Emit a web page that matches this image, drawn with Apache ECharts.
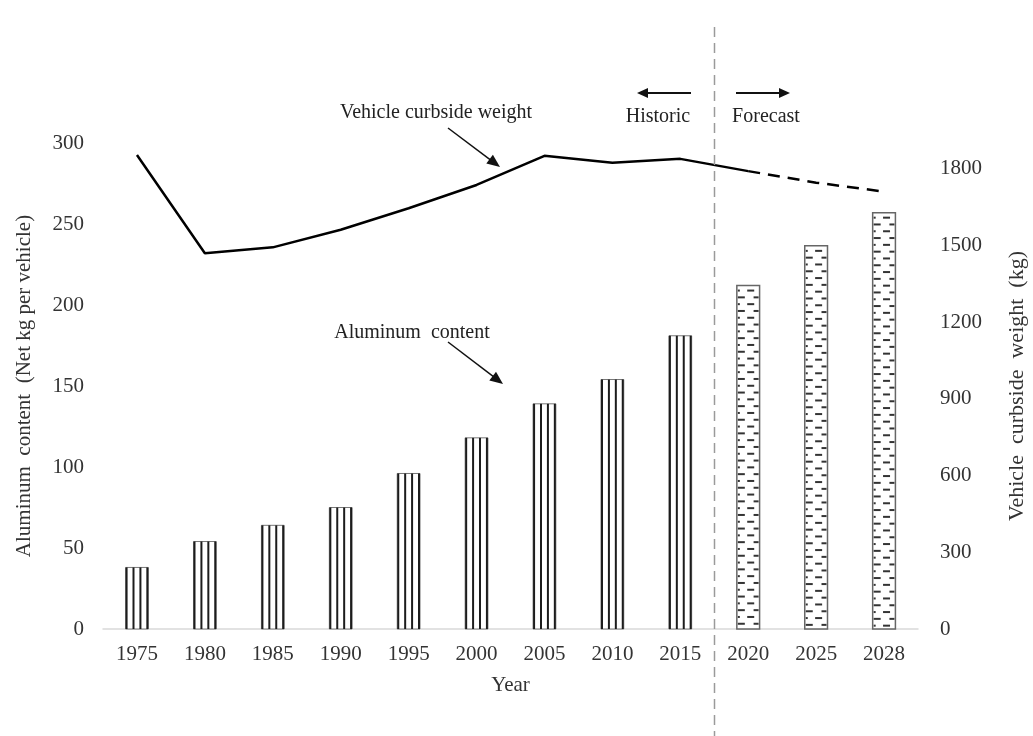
<!DOCTYPE html>
<html><head><meta charset="utf-8">
<script src="https://cdn.jsdelivr.net/npm/echarts@6/dist/echarts.min.js"></script>
<style>html,body{margin:0;padding:0;background:#fff}#c{width:1033px;height:736px}</style>
</head><body><div id="c"></div>
<script>
// ---- data ----
const years = ['1975','1980','1985','1990','1995','2000','2005','2010','2015','2020','2025','2028'];
const aluminumHistoric = [38, 54, 64, 75, 96, 118, 139, 154, 181, null, null, null];
const aluminumForecast = [null, null, null, null, null, null, null, null, null, 212, 236.5, 257];
const weightHistoric = [1853, 1469, 1492, 1561, 1645, 1736, 1850, 1823, 1838, 1790, null, null];
const weightForecast = [null, null, null, null, null, null, null, null, null, 1790, 1745, 1710];
const leftAxis = {min: 0, max: 300, interval: 50};
const rightAxis = {min: 0, max: 1900, interval: 300};

const FONT = '"Liberation Serif", "Times New Roman", serif';
const toPairs = arr => arr.map((v, i) => v == null ? null : [i, v]).filter(d => d);

function renderHistoric(params, api) {
  const idx = api.value(0), val = api.value(1);
  const base = api.coord([idx, 0]);
  const top = api.coord([idx, val]);
  const bw = api.size([1, 0])[0] * 0.335;
  const x0 = base[0] - bw / 2;
  const h = base[1] - top[1];
  const children = [{
    type: 'rect', shape: {x: x0, y: top[1], width: bw, height: h},
    style: {fill: '#fff', stroke: '#777', lineWidth: 1}
  }];
  for (let k = 0; k < 4; k++) {
    const x = x0 + 1 + k * (bw - 2) / 3;
    children.push({type: 'line', shape: {x1: x, y1: top[1], x2: x, y2: base[1]},
      style: {stroke: '#1c1c1c', lineWidth: 2}});
  }
  return {type: 'group', children};
}

function renderForecast(params, api) {
  const idx = api.value(0), val = api.value(1);
  const base = api.coord([idx, 0]);
  const top = api.coord([idx, val]);
  const bw = api.size([1, 0])[0] * 0.335;
  const x0 = base[0] - bw / 2;
  const h = base[1] - top[1];
  const children = [{
    type: 'rect', shape: {x: x0, y: top[1], width: bw, height: h},
    style: {fill: '#fff', stroke: '#666', lineWidth: 1.5}
  }];
  let row = 0;
  for (let y = top[1] + 5; y < base[1] - 2; y += 6.8, row++) {
    if (row % 2 === 0) {
      children.push({type: 'line', shape: {x1: x0 + bw / 2 - 1, y1: y, x2: x0 + bw / 2 + 6, y2: y},
        style: {stroke: '#333', lineWidth: 2}});
      children.push({type: 'line', shape: {x1: x0 + 1, y1: y, x2: x0 + 3, y2: y},
        style: {stroke: '#333', lineWidth: 2}});
    } else {
      children.push({type: 'line', shape: {x1: x0 + 1, y1: y, x2: x0 + 8, y2: y},
        style: {stroke: '#333', lineWidth: 2}});
      children.push({type: 'line', shape: {x1: x0 + bw - 6, y1: y, x2: x0 + bw - 1, y2: y},
        style: {stroke: '#333', lineWidth: 2}});
    }
  }
  return {type: 'group', children};
}

function arrow(x1, y1, x2, y2, head, hw, lw) {
  const dx = x2 - x1, dy = y2 - y1, L = Math.hypot(dx, dy), ux = dx / L, uy = dy / L;
  const bx = x2 - ux * head, by = y2 - uy * head;
  return [
    {type: 'line', shape: {x1, y1, x2: bx + ux * 1, y2: by + uy * 1}, style: {stroke: '#111', lineWidth: lw}, z: 100},
    {type: 'polygon', shape: {points: [[x2, y2], [bx - uy * hw, by + ux * hw], [bx + uy * hw, by - ux * hw]]},
      style: {fill: '#111'}, z: 100}
  ];
}
function label(text, x, y, size) {
  return {type: 'text', x, y, z: 100,
    style: {text, fontSize: size || 20, fontFamily: FONT, fill: '#222', align: 'center', verticalAlign: 'middle'}};
}

const chart = echarts.init(document.getElementById('c'), null, {renderer: 'canvas'});
const axisLabelStyle = {fontSize: 21, fontFamily: FONT, color: '#333'};
chart.setOption({
  animation: false,
  backgroundColor: '#fff',
  grid: {left: 103, right: 115, top: 143, bottom: 107, containLabel: false, outerBoundsMode: 'none'},
  xAxis: {
    type: 'category', data: years, boundaryGap: true,
    axisLine: {show: true, lineStyle: {color: '#d9d9d9', width: 1.5}},
    axisTick: {show: false},
    axisLabel: Object.assign({margin: 15, interval: 0}, axisLabelStyle),
    name: 'Year', nameLocation: 'middle', nameGap: 46,
    nameTextStyle: {fontSize: 21, fontFamily: FONT, color: '#333'}
  },
  yAxis: [{
    type: 'value', position: 'left', min: leftAxis.min, max: leftAxis.max, interval: leftAxis.interval,
    splitLine: {show: false}, axisLine: {show: false}, axisTick: {show: false},
    axisLabel: Object.assign({margin: 19, formatter: v => String(v)}, axisLabelStyle),
    name: 'Aluminum  content  (Net kg per vehicle)', nameLocation: 'middle', nameGap: 68, nameRotate: 90,
    nameTextStyle: {fontSize: 21, fontFamily: FONT, color: '#333'}
  }, {
    type: 'value', position: 'right', min: rightAxis.min, max: rightAxis.max, interval: rightAxis.interval,
    splitLine: {show: false}, axisLine: {show: false}, axisTick: {show: false},
    axisLabel: Object.assign({margin: 22, showMaxLabel: false, formatter: v => String(v)}, axisLabelStyle),
    name: 'Vehicle  curbside  weight  (kg)', nameLocation: 'middle', nameGap: 88, nameRotate: 90,
    nameTextStyle: {fontSize: 22, fontFamily: FONT, color: '#333'}
  }],
  series: [{
    type: 'custom', name: 'Aluminum historic', yAxisIndex: 0, renderItem: renderHistoric,
    encode: {x: 0, y: 1}, data: toPairs(aluminumHistoric)
  }, {
    type: 'custom', name: 'Aluminum forecast', yAxisIndex: 0, renderItem: renderForecast,
    encode: {x: 0, y: 1}, data: toPairs(aluminumForecast)
  }, {
    type: 'line', name: 'Weight historic', yAxisIndex: 1, data: weightHistoric, symbol: 'none',
    lineStyle: {color: '#000', width: 2.5}, z: 5
  }, {
    type: 'line', name: 'Weight forecast', yAxisIndex: 1, data: weightForecast, symbol: 'none',
    lineStyle: {color: '#000', width: 2.5, type: [12, 8]}, z: 5
  }]
});

const xA = chart.convertToPixel({xAxisIndex: 0}, 8);
const xB = chart.convertToPixel({xAxisIndex: 0}, 9);
const sepX = Math.round((xA + xB) / 2) + 0.5;
const graphics = [
  {type: 'line', shape: {x1: sepX, y1: 27, x2: sepX, y2: 736},
    style: {stroke: '#9a9a9a', lineWidth: 1.5, lineDash: [10, 6]}, z: 50},
  label('Vehicle curbside weight', 436, 113),
  ...arrow(448, 128, 500, 167, 13, 5.5, 1.5),
  label('Aluminum  content', 412, 333),
  ...arrow(448, 342, 503, 384, 13, 5.5, 1.5),
  label('Historic', 658, 117),
  ...arrow(691, 93, 637, 93, 11, 5, 2),
  label('Forecast', 766, 117),
  ...arrow(736, 93, 790, 93, 11, 5, 2)
];
chart.setOption({graphic: graphics});
</script>
</body></html>
